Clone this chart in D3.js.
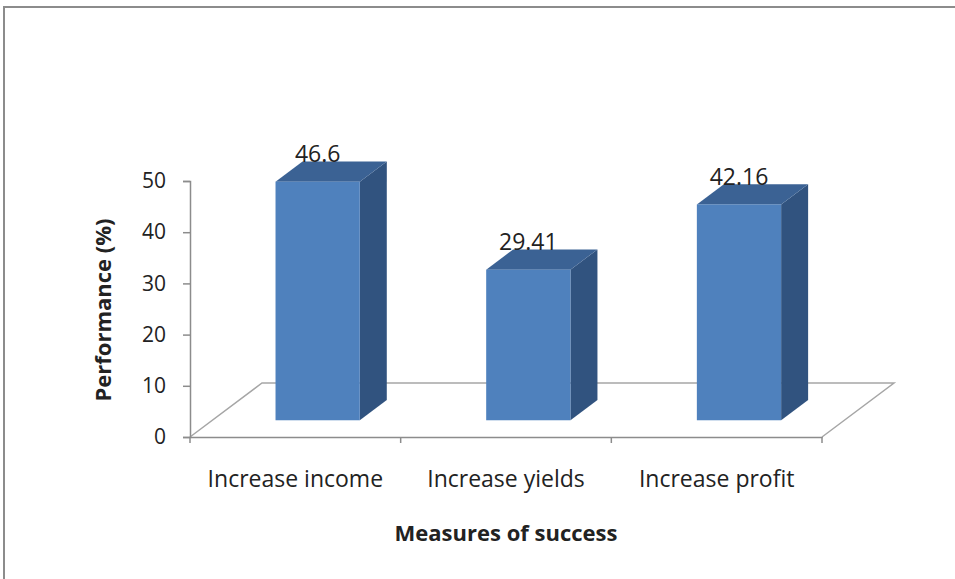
<!DOCTYPE html>
<html>
<head>
<meta charset="utf-8">
<script src="https://cdn.jsdelivr.net/npm/d3@7"></script>
<style>
  html, body { margin: 0; padding: 0; background: #fff; }
  svg { display: block; }
  text { font-family: "Open Sans", "DejaVu Sans", sans-serif; fill: #222; }
</style>
</head>
<body>
<svg id="chart" width="955" height="579"></svg>
<script>
// Measures of success and their performance (%)
const categories = ["Increase income", "Increase yields", "Increase profit"];
const values = [46.6, 29.41, 42.16];
const valueLabels = ["46.6", "29.41", "42.16"];
const yTicks = [0, 10, 20, 30, 40, 50];

const svg = d3.select("#chart");
const W = 955, H = 579;

// Plot frame: front-left corner of the floor and its depth vector
const plotLeft = 190, plotRight = 822, plotBottom = 437, plotTop = 181;
const depth = { dx: 72, dy: -54 };
const barDepthStart = 0.31, barDepthSize = 0.375;

const x = d3.scaleBand().domain(categories).range([plotLeft, plotRight]).paddingInner(0).paddingOuter(0);
const y = d3.scaleLinear().domain([0, 50]).range([plotBottom, plotTop]);

const gray = "#8c8c8c";

// Outer frame (top and left edges)
svg.append("path")
  .attr("d", `M4,${H} L4,7 L${W},7`)
  .attr("fill", "none").attr("stroke", gray).attr("stroke-width", 2);

// Floor outline
const fl = svg.append("g").attr("fill", "none").attr("stroke", "#a6a6a6").attr("stroke-width", 1.5);
fl.append("path").attr("d",
  `M${plotLeft},${plotBottom} L${plotLeft + depth.dx},${plotBottom + depth.dy} L${plotRight + depth.dx},${plotBottom + depth.dy} L${plotRight},${plotBottom}`);

// Y axis
const yAxis = svg.append("g").attr("transform", `translate(${plotLeft},0)`)
  .call(d3.axisLeft(y).tickValues(yTicks).tickSize(7).tickPadding(17).tickFormat(d3.format("d")));
yAxis.select(".domain").attr("stroke", gray).attr("stroke-width", 1.5);
yAxis.selectAll(".tick line").attr("stroke", gray).attr("stroke-width", 1.5);
yAxis.selectAll(".tick text").attr("font-size", 21).attr("fill", "#222")
  .style("font-family", '"Open Sans", sans-serif');

// X axis (front floor edge with category ticks)
const xAxis = svg.append("g").attr("transform", `translate(0,${plotBottom})`)
  .call(d3.axisBottom(x).tickSize(0).tickPadding(34));
xAxis.select(".domain").attr("stroke", gray).attr("stroke-width", 1.5);
xAxis.selectAll(".tick text").attr("font-size", 23).attr("fill", "#222")
  .style("font-family", '"Open Sans", sans-serif');
const bounds = [plotLeft].concat(categories.map(c => x(c) + x.bandwidth()));
xAxis.selectAll(".sep").data(bounds).join("line").attr("class", "sep")
  .attr("x1", d => d).attr("x2", d => d).attr("y1", 0).attr("y2", 6)
  .attr("stroke", gray).attr("stroke-width", 1.5);

// 3D bars
const bw = x.bandwidth() * 0.4;
const fdx = depth.dx * barDepthStart, fdy = depth.dy * barDepthStart;
const bdx = depth.dx * barDepthSize, bdy = depth.dy * barDepthSize;

const bars = svg.append("g").selectAll("g").data(values).join("g");
bars.each(function (v, i) {
  const g = d3.select(this);
  const x0 = x(categories[i]) + x.bandwidth() * 0.3 + fdx;
  const x1 = x0 + bw;
  const y0 = y(0) + fdy;
  const y1 = y(v) + fdy;
  // side face
  g.append("path")
    .attr("d", `M${x1},${y1} L${x1 + bdx},${y1 + bdy} L${x1 + bdx},${y0 + bdy} L${x1},${y0} Z`)
    .attr("fill", "#31537f");
  // top face
  g.append("path")
    .attr("d", `M${x0},${y1} L${x0 + bdx},${y1 + bdy} L${x1 + bdx},${y1 + bdy} L${x1},${y1} Z`)
    .attr("fill", "#3b6294");
  // front face
  g.append("rect")
    .attr("x", x0).attr("y", y1).attr("width", bw).attr("height", y0 - y1)
    .attr("fill", "#4f81bd");
  // value label
  g.append("text")
    .attr("x", (x0 + x1) / 2).attr("y", y1 + bdy + 1)
    .attr("text-anchor", "middle").attr("font-size", 23)
    .text(valueLabels[i]);
});

// Axis titles
svg.append("text")
  .attr("transform", `translate(111,310) rotate(-90)`)
  .attr("text-anchor", "middle").attr("font-size", 22).attr("font-weight", "bold")
  .text("Performance (%)");
svg.append("text")
  .attr("x", 506).attr("y", 541)
  .attr("text-anchor", "middle").attr("font-size", 22).attr("font-weight", "bold")
  .text("Measures of success");
</script>
</body>
</html>
